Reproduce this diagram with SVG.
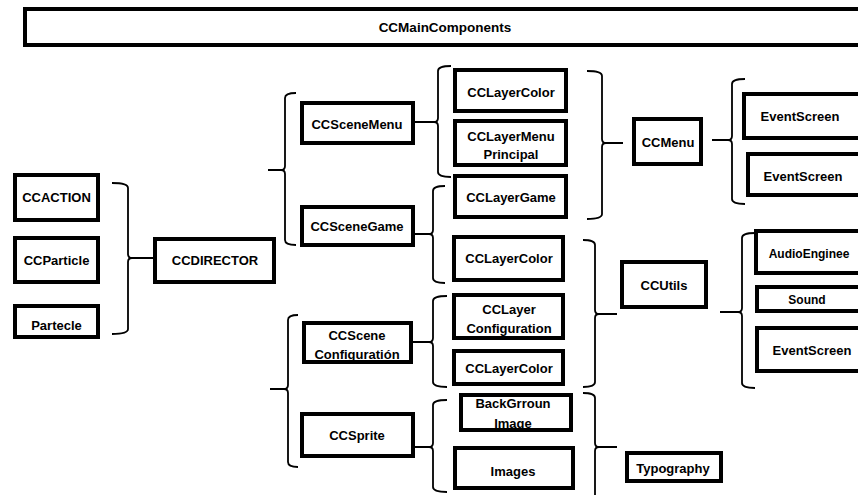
<svg xmlns="http://www.w3.org/2000/svg" width="858" height="495" viewBox="0 0 858 495">
<style>
.b{fill:#fff;stroke:#000;stroke-width:4}
.t{font-family:"Liberation Sans",Arial,sans-serif;font-weight:bold;font-size:13px;fill:#000;text-anchor:middle}
.s{font-size:12px}
.c{fill:none;stroke:#000;stroke-width:1.8;stroke-linejoin:round}
</style>
<rect width="858" height="495" fill="#fff"/>
<g id="connectors">
<path class="c" d="M112 183 Q128 183 128 188 V254 Q128 258 132 258 Q128 258 128 262 V329 Q128 334 112 334 M132 258 H153"/>
<path class="c" d="M296 93 Q285 93 285 98 V166 Q285 170 281 170 Q285 170 285 174 V240 Q285 245 296 245 M281 170 H268"/>
<path class="c" d="M298 315 Q288 315 288 320 V385 Q288 389 284 389 Q288 389 288 393 V462 Q288 467 298 467 M284 389 H270"/>
<path class="c" d="M451 66 Q438 66 438 71 V118 Q438 122 434 122 Q438 122 438 126 V172 Q438 177 451 177 M434 122 H415"/>
<path class="c" d="M445 186 Q433 186 433 191 V230 Q433 234 429 234 Q433 234 433 238 V278 Q433 283 445 283 M429 234 H415"/>
<path class="c" d="M447 296 Q433 296 433 301 V338 Q433 342 429 342 Q433 342 433 346 V382 Q433 387 447 387 M429 342 H413"/>
<path class="c" d="M447 400 Q433 400 433 405 V443 Q433 447 429 447 Q433 447 433 451 V487 Q433 492 447 492 M429 447 H415"/>
<path class="c" d="M587 71 Q602 71 602 76 V139 Q602 143 606 143 Q602 143 602 147 V214 Q602 219 587 219 M606 143 H623"/>
<path class="c" d="M583 240 Q595 240 595 245 V310 Q595 314 599 314 Q595 314 595 318 V382 Q595 387 583 387 M599 314 H617"/>
<path class="c" d="M583 393 Q595 393 595 398 V443 Q595 447 599 447 Q595 447 595 451 V500 M599 447 H617"/>
<path class="c" d="M745 79 Q732 79 732 84 V136 Q732 140 728 140 Q732 140 732 144 V199 Q732 204 745 204 M728 140 H712"/>
<path class="c" d="M755 233 Q742 233 742 238 V308 Q742 312 738 312 Q742 312 742 316 V383 Q742 388 755 388 M738 312 H720"/>
</g>
<g id="main"><rect class="b" x="25" y="9" width="839" height="36"/><text class="t" x="445" y="32" style="font-size:13.5px">CCMainComponents</text></g>
<g id="ccaction"><rect class="b" x="15" y="175" width="83" height="45"/><text class="t" x="56.5" y="201.5">CCACTION</text></g>
<g id="ccparticle"><rect class="b" x="15" y="238" width="83" height="44"/><text class="t" x="56.5" y="264.5">CCParticle</text></g>
<g id="partecle"><rect class="b" x="15" y="306" width="83" height="31"/><text class="t" x="56.5" y="329.5">Partecle</text></g>
<g id="ccdirector"><rect class="b" x="155" y="239" width="119" height="43"/><text class="t" x="215" y="264.5">CCDIRECTOR</text></g>
<g id="ccscenemenu"><rect class="b" x="302" y="103" width="111" height="40"/><text class="t" x="357" y="128.5">CCSceneMenu</text></g>
<g id="ccscenegame"><rect class="b" x="302" y="207" width="111" height="38"/><text class="t" x="357" y="230.5">CCSceneGame</text></g>
<g id="ccsceneconfig"><rect class="b" x="304" y="323" width="107" height="39"/><text class="t" x="357" y="339.5">CCScene</text><text class="t" x="357" y="358.5">Configuratión</text></g>
<g id="ccsprite"><rect class="b" x="302" y="414" width="111" height="42"/><text class="t" x="357" y="439.5">CCSprite</text></g>
<g id="cclayercolor1"><rect class="b" x="455" y="70" width="111" height="41"/><text class="t" x="511" y="96.5">CCLayerColor</text></g>
<g id="cclayermenuprincipal"><rect class="b" x="455" y="121" width="111" height="44"/><text class="t" x="511" y="140.5">CCLayerMenu</text><text class="t" x="511" y="158.5">Principal</text></g>
<g id="cclayergame"><rect class="b" x="455" y="176" width="111" height="41"/><text class="t" x="511" y="201.5">CCLayerGame</text></g>
<g id="cclayercolor2"><rect class="b" x="454" y="237" width="109" height="43"/><text class="t" x="509" y="262.5">CCLayerColor</text></g>
<g id="cclayerconfig"><rect class="b" x="454" y="295" width="109" height="43"/><text class="t" x="509" y="313.5">CCLayer</text><text class="t" x="509" y="332.5">Configuration</text></g>
<g id="cclayercolor3"><rect class="b" x="454" y="351" width="109" height="33"/><text class="t" x="509" y="372.5">CCLayerColor</text></g>
<g id="background"><rect class="b" x="461" y="395" width="110" height="35"/><text class="t" x="513" y="407.5">BackGrroun</text><text class="t" x="513" y="427.5">Image</text></g>
<g id="images"><rect class="b" x="455" y="448" width="118" height="40"/><text class="t" x="513" y="475.5">Images</text></g>
<g id="ccmenu"><rect class="b" x="634" y="119" width="67" height="45"/><text class="t" x="668" y="146.5">CCMenu</text></g>
<g id="ccutils"><rect class="b" x="622" y="262" width="84" height="45"/><text class="t" x="664" y="289.5">CCUtils</text></g>
<g id="typography"><rect class="b" x="627" y="453" width="94" height="28"/><text class="t" x="673" y="472.5">Typography</text></g>
<g id="eventscreen1"><rect class="b" x="744" y="94" width="120" height="44"/><text class="t" x="800" y="120.5">EventScreen</text></g>
<g id="eventscreen2"><rect class="b" x="748" y="154" width="118" height="41"/><text class="t" x="803" y="180.5">EventScreen</text></g>
<g id="audioenginee"><rect class="b" x="756" y="231" width="108" height="42"/><text class="t s" x="809" y="258">AudioEnginee</text></g>
<g id="sound"><rect class="b" x="757" y="287" width="107" height="24"/><text class="t s" x="807" y="304">Sound</text></g>
<g id="eventscreen3"><rect class="b" x="757" y="328" width="107" height="43"/><text class="t" x="812" y="354.5">EventScreen</text></g>
</svg>
